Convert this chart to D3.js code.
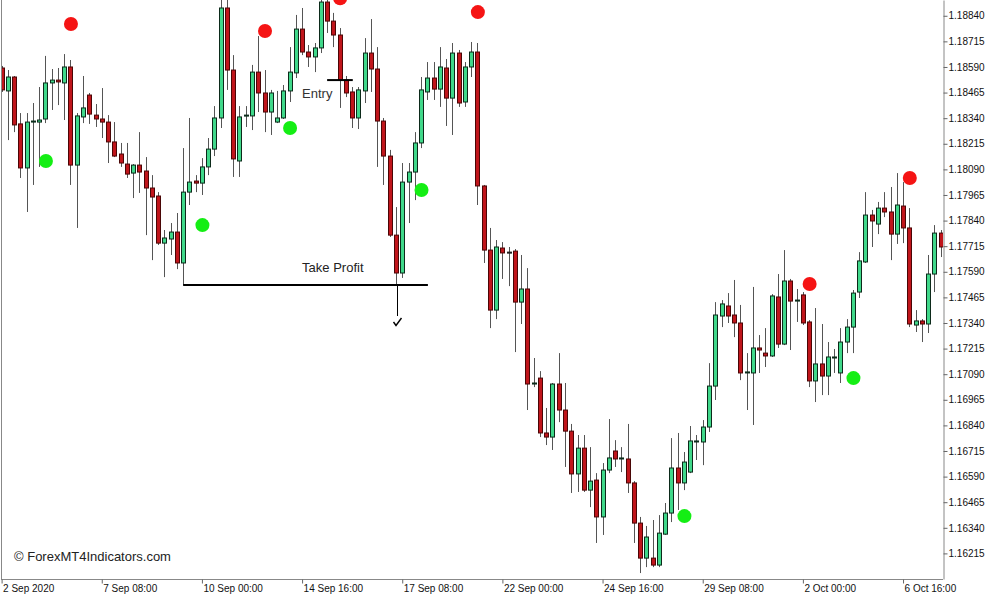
<!DOCTYPE html>
<html>
<head>
<meta charset="utf-8">
<script src="https://cdn.jsdelivr.net/npm/d3@7"></script>
<style>
  html, body { margin: 0; padding: 0; background: #fff; }
  svg { display: block; }
  text { font-family: "Liberation Sans", Arial, sans-serif; }
</style>
</head>
<body>
<svg id="chart" width="1000" height="600"></svg>
<script>
// ---- Data (EURUSD H4) ----
const openP = [1.18585,1.18473,1.18541,1.18312,1.18097,1.18321,1.18321,1.18336,1.18512,1.18526,
1.18512,1.18590,1.18111,1.18346,1.18453,1.18355,1.18336,1.18321,1.18224,1.18165,
1.18116,1.18072,1.18111,1.18082,1.17999,1.17960,1.17730,1.17750,1.17784,1.17633,
1.17979,1.18033,1.18023,1.18102,1.18189,1.18341,1.18878,1.18575,1.18131,1.18351,
1.18351,1.18565,1.18463,1.18370,1.18321,1.18341,1.18473,1.18561,1.18775,1.18663,
1.18639,1.18683,1.18907,1.18814,1.18746,1.18526,1.18468,1.18341,1.18473,1.18658,
1.18580,1.18326,1.18155,1.17769,1.17584,1.18028,1.18077,1.18219,1.18468,1.18536,
1.18482,1.18585,1.18438,1.18658,1.18419,1.18590,1.18663,1.18009,1.17696,1.17403,
1.17706,1.17686,1.17691,1.17442,1.17506,1.17042,1.17071,1.16803,1.16783,1.17042,
1.16915,1.16812,1.16603,1.16729,1.16524,1.16573,1.16393,1.16622,1.16715,1.16676,
1.16676,1.16559,1.16363,1.16192,1.16192,1.16158,1.16309,1.16412,1.16632,1.16559,
1.16612,1.16759,1.16759,1.16832,1.17032,1.17374,1.17423,1.17379,1.17340,1.17096,
1.17096,1.17218,1.17193,1.17179,1.17467,1.17237,1.17545,1.17447,1.17477,1.17345,
1.17057,1.17140,1.17081,1.17169,1.17096,1.17247,1.17320,1.17491,1.17638,1.17867,
1.17823,1.17901,1.17882,1.17774,1.17911,1.17804,1.17330,1.17350,1.17335,1.17579,
1.17779];
const highP = [1.18595,1.18575,1.18546,1.18365,1.18365,1.18414,1.18492,1.18644,1.18580,1.18585,
1.18653,1.18624,1.18365,1.18546,1.18463,1.18409,1.18487,1.18355,1.18321,1.18219,
1.18219,1.18116,1.18272,1.18150,1.18062,1.17979,1.17794,1.17828,1.17877,1.18194,
1.18341,1.18062,1.18145,1.18243,1.18399,1.18932,1.18927,1.18648,1.18399,1.18399,
1.18600,1.18741,1.18575,1.18478,1.18473,1.18502,1.18687,1.18844,1.18878,1.18697,
1.18707,1.18941,1.18932,1.18854,1.18780,1.18546,1.18492,1.18492,1.18731,1.18824,
1.18687,1.18341,1.18185,1.17906,1.18121,1.18121,1.18272,1.18541,1.18614,1.18614,
1.18687,1.18629,1.18707,1.18673,1.18614,1.18712,1.18707,1.18014,1.17804,1.17745,
1.17735,1.17711,1.17701,1.17672,1.17608,1.17169,1.17105,1.16925,1.17047,1.17193,
1.17047,1.16847,1.16793,1.16793,1.16734,1.16607,1.16656,1.16871,1.16768,1.16734,
1.16847,1.16568,1.16393,1.16349,1.16378,1.16402,1.16461,1.16778,1.16803,1.16710,
1.16837,1.16793,1.16866,1.17144,1.17442,1.17452,1.17486,1.17550,1.17428,1.17193,
1.17516,1.17281,1.17315,1.17481,1.17579,1.17696,1.17555,1.17506,1.17491,1.17354,
1.17413,1.17335,1.17247,1.17213,1.17315,1.17359,1.17501,1.17686,1.17979,1.17892,
1.17931,1.17979,1.18004,1.18072,1.18028,1.17901,1.17403,1.17359,1.17672,1.17818,
1.17794];
const lowP = [1.18468,1.18233,1.18272,1.18048,1.17882,1.18014,1.18102,1.18316,1.18380,1.18404,
1.18331,1.18014,1.17804,1.18316,1.18312,1.18297,1.18243,1.18121,1.18150,1.18102,
1.18048,1.17950,1.17975,1.17769,1.17647,1.17721,1.17564,1.17672,1.17603,1.17525,
1.17916,1.17979,1.17965,1.18062,1.18155,1.18292,1.18478,1.18053,1.18053,1.18297,
1.18282,1.18370,1.18272,1.18258,1.18316,1.18336,1.18419,1.18536,1.18648,1.18590,
1.18565,1.18658,1.18756,1.18687,1.18390,1.18443,1.18292,1.18287,1.18414,1.18468,
1.18102,1.18014,1.17760,1.17525,1.17560,1.17828,1.17940,1.18194,1.18429,1.18429,
1.18395,1.18302,1.18258,1.18395,1.18395,1.18541,1.17916,1.17633,1.17315,1.17359,
1.17555,1.17520,1.17198,1.17335,1.16915,1.17027,1.16783,1.16744,1.16720,1.16856,
1.16637,1.16510,1.16515,1.16515,1.16441,1.16266,1.16305,1.16607,1.16637,1.16612,
1.16510,1.16266,1.16119,1.16148,1.16148,1.16148,1.16305,1.16368,1.16427,1.16524,
1.16607,1.16671,1.16646,1.16808,1.16964,1.17320,1.17340,1.17271,1.17061,1.16915,
1.16842,1.17096,1.17125,1.17174,1.17218,1.17232,1.17208,1.17345,1.17330,1.17027,
1.16954,1.16988,1.16988,1.17096,1.17047,1.17193,1.17193,1.17462,1.17633,1.17711,
1.17774,1.17857,1.17647,1.17726,1.17730,1.17320,1.17296,1.17247,1.17291,1.17491,
1.17662];
const closeP = [1.18478,1.18541,1.18307,1.18097,1.18321,1.18326,1.18331,1.18512,1.18526,1.18517,
1.18590,1.18111,1.18351,1.18390,1.18360,1.18336,1.18321,1.18224,1.18155,1.18121,
1.18067,1.18111,1.18077,1.17999,1.17955,1.17730,1.17755,1.17784,1.17633,1.17979,
1.18028,1.18023,1.18102,1.18189,1.18341,1.18878,1.18575,1.18141,1.18346,1.18355,
1.18565,1.18463,1.18370,1.18463,1.18341,1.18473,1.18565,1.18775,1.18663,1.18639,
1.18683,1.18907,1.18814,1.18746,1.18526,1.18463,1.18341,1.18478,1.18658,1.18580,
1.18326,1.18155,1.17769,1.17584,1.18028,1.18077,1.18219,1.18478,1.18536,1.18482,
1.18590,1.18438,1.18658,1.18414,1.18590,1.18663,1.18009,1.17696,1.17403,1.17711,
1.17682,1.17686,1.17442,1.17506,1.17042,1.17047,1.16803,1.16783,1.17042,1.16915,
1.16812,1.16603,1.16729,1.16524,1.16568,1.16393,1.16622,1.16681,1.16676,1.16681,
1.16559,1.16363,1.16192,1.16295,1.16158,1.16314,1.16412,1.16632,1.16559,1.16661,
1.16764,1.16764,1.16832,1.17032,1.17379,1.17433,1.17374,1.17340,1.17096,1.17101,
1.17218,1.17208,1.17179,1.17472,1.17237,1.17545,1.17447,1.17452,1.17340,1.17057,
1.17140,1.17081,1.17174,1.17174,1.17247,1.17320,1.17486,1.17643,1.17867,1.17838,
1.17901,1.17882,1.17774,1.17916,1.17804,1.17335,1.17350,1.17335,1.17579,1.17779,
1.17711];

// signal dots (bar index, price)
const sellIdx   = [11, 42, 54, 76, 129, 145];
const sellPrice = [1.18800, 1.18766, 1.18925, 1.18858, 1.17530, 1.18048];
const buyIdx    = [7, 32, 46, 67, 109, 136];
const buyPrice  = [1.18131, 1.17818, 1.18292, 1.17989, 1.16397, 1.17071];

// trade annotations
const entryPrice = 1.18526, entryFrom = 52, entryTo = 56.1;
const tpPrice = 1.17525, tpFrom = 29, tpTo = 68.1;
const tpHitIdx = 63, tpHitLow = 1.17374;

// axes
const xTickIdx = [0, 16, 32, 48, 64, 80, 96, 112, 128, 144];
const xTickLabels = ["2 Sep 2020","7 Sep 08:00","10 Sep 00:00","14 Sep 16:00","17 Sep 08:00",
                     "22 Sep 00:00","24 Sep 16:00","29 Sep 08:00","2 Oct 00:00","6 Oct 16:00"];
const yTicks = [1.18840,1.18715,1.18590,1.18465,1.18340,1.18215,1.18090,1.17965,1.17840,1.17715,
                1.17590,1.17465,1.17340,1.17215,1.17090,1.16965,1.16840,1.16715,1.16590,1.16465,
                1.16340,1.16215];

// ---- Drawing ----
const svg = d3.select("#chart");
const W = 1000, H = 600;
const plotL = 2, plotR = 943, plotB = 579;

svg.append("rect").attr("width", W).attr("height", H).attr("fill", "#fff");

const x = d3.scaleLinear().domain([0, 150]).range([1.6, 940.6]);
const y = d3.scaleLinear().domain([1.16090, 1.18917]).range([plotB, 0]);

svg.append("defs").append("clipPath").attr("id", "plotclip")
  .append("rect").attr("x", plotL).attr("y", 0).attr("width", plotR - plotL).attr("height", plotB);

const plot = svg.append("g").attr("clip-path", "url(#plotclip)");

const bars = d3.range(openP.length).map(i => ({
  i, o: openP[i], h: highP[i], l: lowP[i], c: closeP[i]
}));

const cx = d => Math.round(x(d.i)) + 0.5;

// wicks
plot.append("g").selectAll("line").data(bars).join("line")
  .attr("x1", cx).attr("x2", cx)
  .attr("y1", d => y(d.h)).attr("y2", d => y(d.l))
  .attr("stroke", "#555").attr("stroke-width", 1);

// bodies
plot.append("g").selectAll("rect").data(bars).join("rect")
  .attr("x", d => cx(d) - 2)
  .attr("width", 4)
  .attr("y", d => Math.min(y(d.o), y(d.c)))
  .attr("height", d => Math.max(1, Math.abs(y(d.o) - y(d.c))))
  .attr("fill", d => d.c > d.o ? "#40d88a" : (d.c < d.o ? "#c0151b" : "#222"))
  .attr("stroke", d => d.c > d.o ? "#0c2a1a" : (d.c < d.o ? "#4a0606" : "#222"))
  .attr("stroke-width", 1);

// Entry line and label
plot.append("line")
  .attr("x1", x(entryFrom)).attr("x2", x(entryTo))
  .attr("y1", y(entryPrice)).attr("y2", y(entryPrice))
  .attr("stroke", "#000").attr("stroke-width", 2);
svg.append("text").attr("x", x(48)).attr("y", y(entryPrice) + 18)
  .attr("font-size", 13).attr("fill", "#333").text("Entry");

// Take profit line and label
plot.append("line")
  .attr("x1", x(tpFrom)).attr("x2", x(tpTo))
  .attr("y1", y(tpPrice)).attr("y2", y(tpPrice))
  .attr("stroke", "#000").attr("stroke-width", 2);
svg.append("text").attr("x", x(48)).attr("y", y(tpPrice) - 13)
  .attr("font-size", 13).attr("fill", "#222").text("Take Profit");

// TP hit marker
const hx = Math.round(x(tpHitIdx)) + 1.5;
plot.append("line").attr("x1", hx).attr("x2", hx)
  .attr("y1", y(tpPrice)).attr("y2", y(tpHitLow))
  .attr("stroke", "#000").attr("stroke-width", 1);
const hy = y(tpHitLow) + 7;
svg.append("path")
  .attr("d", `M${hx - 4},${hy - 1} L${hx - 1.5},${hy + 2.5} L${hx + 4},${hy - 5}`)
  .attr("fill", "none").attr("stroke", "#000").attr("stroke-width", 1.4);

// signal dots
plot.append("g").selectAll("circle").data(sellIdx.map((d, k) => [d, sellPrice[k]])).join("circle")
  .attr("cx", d => x(d[0]) + 0.5).attr("cy", d => y(d[1])).attr("r", 7).attr("fill", "#f51414");
plot.append("g").selectAll("circle").data(buyIdx.map((d, k) => [d, buyPrice[k]])).join("circle")
  .attr("cx", d => x(d[0]) + 0.5).attr("cy", d => y(d[1])).attr("r", 7).attr("fill", "#14ee14");

// frame
svg.append("line").attr("x1", 1.5).attr("x2", 1.5).attr("y1", 0).attr("y2", plotB)
  .attr("stroke", "#888");
svg.append("line").attr("x1", 1).attr("x2", plotR).attr("y1", plotB + 0.5).attr("y2", plotB + 0.5)
  .attr("stroke", "#888");

// y axis (right)
const yAxis = d3.axisRight(y).tickValues(yTicks).tickFormat(d3.format(".5f"))
  .tickSize(4).tickSizeOuter(0).tickPadding(1);
const gy = svg.append("g").attr("transform", `translate(${plotR + 0.5},0)`).call(yAxis);
gy.select(".domain").attr("stroke", "#888");
gy.selectAll(".tick line").attr("stroke", "#666");
gy.selectAll(".tick text").attr("font-size", 10).attr("fill", "#111")
  .attr("font-family", "'Liberation Sans', Arial, sans-serif");

// x axis (bottom)
const xAxis = d3.axisBottom(x).tickValues(xTickIdx).tickFormat((d, k) => xTickLabels[k])
  .tickSize(4).tickSizeOuter(0);
const gx = svg.append("g").attr("transform", `translate(0,${plotB + 0.5})`).call(xAxis);
gx.select(".domain").remove();
gx.selectAll(".tick line").attr("stroke", "#666");
gx.selectAll(".tick text").attr("font-size", 10).attr("fill", "#111")
  .attr("font-family", "'Liberation Sans', Arial, sans-serif")
  .attr("text-anchor", "start").attr("x", 1).attr("y", 12).attr("dy", 0);

// watermark
svg.append("text").attr("x", 14).attr("y", 561).attr("font-size", 13).attr("fill", "#222")
  .text("© ForexMT4Indicators.com");
</script>
</body>
</html>
